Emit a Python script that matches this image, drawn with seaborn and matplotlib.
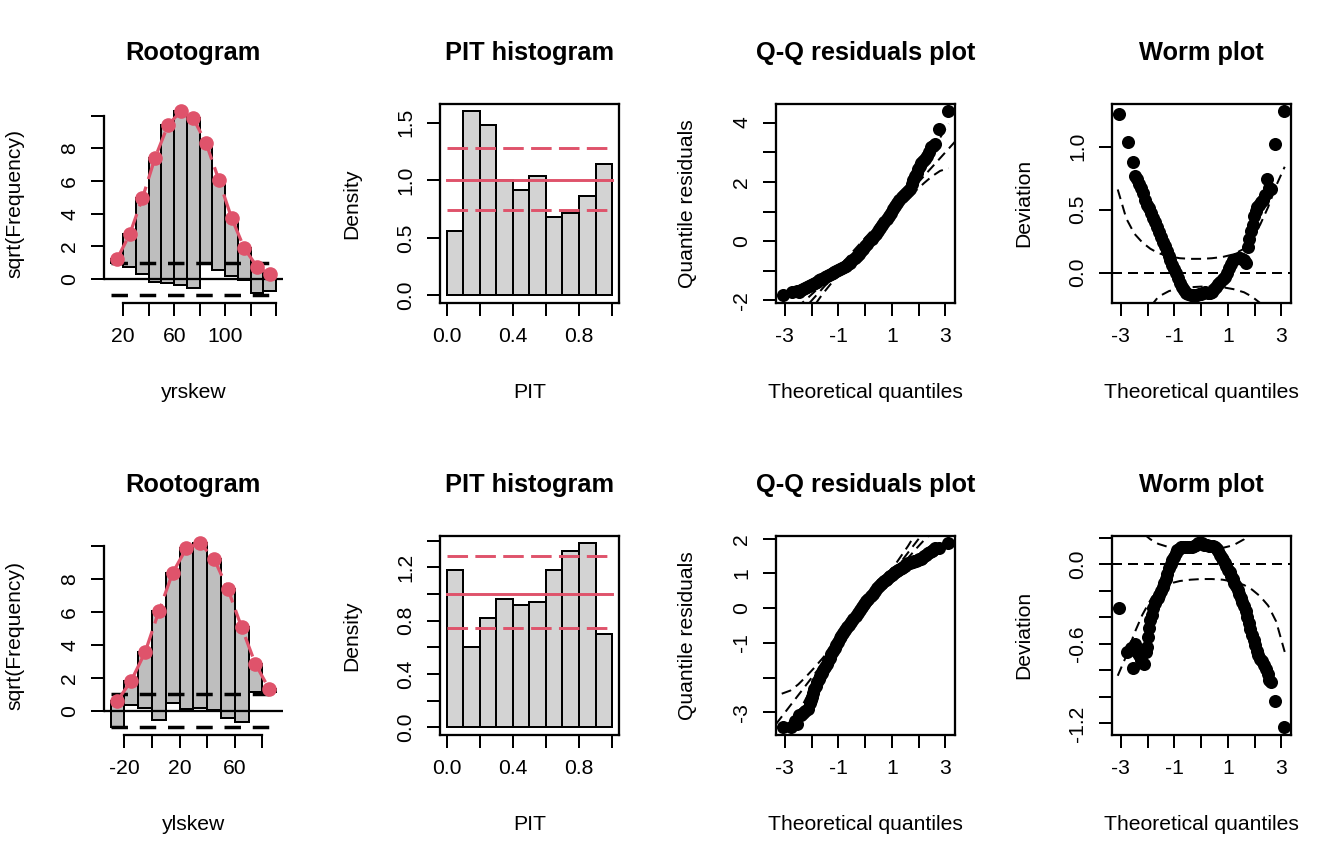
import numpy as np
import pandas as pd
import seaborn as sns
import matplotlib
matplotlib.use("Agg")
from matplotlib import pyplot as plt

# ---- data ------------------------------------------------------------------
# rootogram, top row (yrskew): bin centres, expected sqrt(freq), bar bottoms
root_mid_top = [15, 25, 35, 45, 55, 65, 75, 85, 95, 105, 115, 125, 135]
root_exp_top = [1.21, 2.73, 4.94, 7.43, 9.39, 10.26, 9.82, 8.30, 6.07, 3.74, 1.88, 0.75, 0.30]
root_low_top = [1.00, 0.75, 0.28, -0.18, -0.22, -0.34, -0.53, 1.00, 0.55, 0.20, -0.06, -0.87, -0.71]
root_xt_top = [20, 40, 60, 80, 100, 120, 140]
root_xl_top = ['20', '', '60', '', '100', '', '']

# rootogram, bottom row (ylskew)
root_mid_bot = [-25, -15, -5, 5, 15, 25, 35, 45, 55, 65, 75, 85]
root_exp_bot = [0.61, 1.83, 3.55, 6.04, 8.38, 9.88, 10.18, 9.23, 7.40, 5.07, 2.84, 1.32]
root_low_bot = [-1.01, 0.37, 0.16, -0.55, 0.47, 0.10, 0.20, 0.06, -0.41, -0.69, 1.15, 1.12]
root_xt_bot = [-20, 0, 20, 40, 60, 80]
root_xl_bot = ['-20', '', '20', '', '60', '']
root_yt = [0, 2, 4, 6, 8, 10]
root_yl = ['0', '2', '4', '6', '8', '']
bin_width = 10

# PIT histograms
pit_edges = [0.0, 0.1, 0.2, 0.3, 0.4, 0.5, 0.6, 0.7, 0.8, 0.9, 1.0]
pit_dens_top = [0.56, 1.60, 1.48, 1.00, 0.92, 1.04, 0.68, 0.72, 0.86, 1.14]
pit_dens_bot = [1.18, 0.60, 0.82, 0.96, 0.92, 0.94, 1.18, 1.32, 1.38, 0.70]
pit_ci = [0.745, 1.285]
pit_xt = [0.0, 0.2, 0.4, 0.6, 0.8, 1.0]
pit_xl = ['0.0', '', '0.4', '', '0.8', '']
pit_yt_top = [0.0, 0.5, 1.0, 1.5]
pit_yl_top = ['0.0', '0.5', '1.0', '1.5']
pit_yt_bot = [0.0, 0.2, 0.4, 0.6, 0.8, 1.0, 1.2, 1.4]
pit_yl_bot = ['0.0', '', '0.4', '', '0.8', '', '1.2', '']

# theoretical quantiles and deviations (worm plot values); qq residual = theo + dev
theo_top = [-3.09, -2.74, -2.56, -2.47, -2.40, -2.32, -2.25, -2.18, -2.10, -2.02,
            -1.95, -1.88, -1.80, -1.72, -1.65, -1.58, -1.50, -1.43, -1.36, -1.29,
            -1.22, -1.15, -1.08, -1.01, -0.94, -0.87, -0.80, -0.72, -0.64, -0.56,
            -0.48, -0.40, -0.32, -0.24, -0.16, -0.08, 0.00, 0.08, 0.16, 0.24,
            0.32, 0.40, 0.48, 0.56, 0.64, 0.72, 0.80, 0.88, 0.96, 1.04,
            1.12, 1.20, 1.28, 1.36, 1.44, 1.52, 1.60, 1.68, 1.74, 1.80,
            1.86, 1.92, 1.98, 2.04, 2.10, 2.16, 2.22, 2.30, 2.38, 2.45,
            2.55, 2.62, 2.76, 3.10]
dev_top = [1.26, 1.04, 0.88, 0.77, 0.74, 0.70, 0.67, 0.63, 0.58, 0.54,
           0.51, 0.47, 0.43, 0.40, 0.36, 0.32, 0.28, 0.24, 0.21, 0.17,
           0.13, 0.10, 0.06, 0.03, 0.00, -0.04, -0.08, -0.11, -0.14, -0.16,
           -0.17, -0.18, -0.18, -0.18, -0.18, -0.17, -0.17, -0.16, -0.15, -0.16,
           -0.16, -0.15, -0.13, -0.11, -0.09, -0.07, -0.05, -0.03, 0.00, 0.04,
           0.07, 0.10, 0.11, 0.12, 0.12, 0.11, 0.10, 0.08, 0.20, 0.27,
           0.33, 0.38, 0.45, 0.49, 0.52, 0.54, 0.56, 0.58, 0.62, 0.74,
           0.67, 0.66, 1.02, 1.28]

theo_bot = [-3.09, -2.77, -2.62, -2.56, -2.46, -2.40, -2.34, -2.25, -2.15, -2.08,
            -2.03, -1.99, -1.95, -1.90, -1.85, -1.80, -1.74, -1.68, -1.62, -1.56,
            -1.50, -1.44, -1.38, -1.32, -1.26, -1.20, -1.14, -1.08, -1.02, -0.96,
            -0.90, -0.84, -0.76, -0.68, -0.60, -0.52, -0.44, -0.36, -0.28, -0.20,
            -0.12, -0.04, 0.04, 0.12, 0.20, 0.28, 0.36, 0.44, 0.52, 0.58,
            0.64, 0.70, 0.76, 0.82, 0.88, 0.94, 1.00, 1.06, 1.12, 1.18,
            1.24, 1.30, 1.36, 1.42, 1.48, 1.54, 1.60, 1.66, 1.72, 1.78,
            1.84, 1.90, 1.96, 2.02, 2.08, 2.14, 2.20, 2.27, 2.34, 2.41,
            2.48, 2.55, 2.62, 2.76, 3.10]
dev_bot = [-0.33, -0.66, -0.63, -0.78, -0.60, -0.66, -0.68, -0.72, -0.75, -0.66,
           -0.62, -0.55, -0.48, -0.42, -0.38, -0.33, -0.29, -0.27, -0.25, -0.23,
           -0.20, -0.17, -0.14, -0.11, -0.07, -0.03, 0.00, 0.03, 0.06, 0.09,
           0.11, 0.12, 0.13, 0.13, 0.13, 0.13, 0.13, 0.13, 0.14, 0.15,
           0.16, 0.16, 0.16, 0.15, 0.15, 0.14, 0.14, 0.14, 0.13, 0.12,
           0.10, 0.07, 0.05, 0.03, 0.01, -0.01, -0.04, -0.06, -0.09, -0.11,
           -0.14, -0.16, -0.19, -0.22, -0.25, -0.28, -0.31, -0.35, -0.40, -0.44,
           -0.49, -0.53, -0.57, -0.61, -0.65, -0.68, -0.71, -0.73, -0.76, -0.79,
           -0.83, -0.87, -0.89, -1.03, -1.23]

# confidence band of the worm plot (same n in both rows)
band_x = [-3.12, -2.8, -2.5, -2.2, -1.9, -1.6, -1.2, -0.8, -0.4, 0.0,
          0.4, 0.8, 1.2, 1.6, 1.9, 2.2, 2.5, 2.8, 3.12]
band_hi = [0.66, 0.43, 0.31, 0.24, 0.19, 0.155, 0.13, 0.115, 0.11, 0.11,
           0.115, 0.125, 0.145, 0.19, 0.27, 0.38, 0.52, 0.69, 0.84]
band_lo = [-0.84, -0.69, -0.52, -0.38, -0.27, -0.19, -0.145, -0.125, -0.115, -0.11,
           -0.11, -0.115, -0.13, -0.155, -0.19, -0.24, -0.31, -0.43, -0.66]

q_xt = [-3, -2, -1, 0, 1, 2, 3]
q_xl = ['-3', '', '-1', '', '1', '', '3']
qq_yt_top = [-2, -1, 0, 1, 2, 3, 4]
qq_yl_top = ['-2', '', '0', '', '2', '', '4']
qq_yt_bot = [-3, -2, -1, 0, 1, 2]
qq_yl_bot = ['-3', '', '-1', '0', '1', '2']
wp_yt_top = [0.0, 0.5, 1.0]
wp_yl_top = ['0.0', '0.5', '1.0']
wp_yt_bot = [-1.2, -1.0, -0.8, -0.6, -0.4, -0.2, 0.0, 0.2]
wp_yl_bot = ['-1.2', '', '', '-0.6', '', '', '0.0', '']

# ---- look ------------------------------------------------------------------
RED = '#DF536B'
FS = 7.92
W, H = 1344, 864
PW, PH = 336, 432
ML, MR, MT, MB = 103.9, 53.2, 103.9, 129.2
AX_W = PW - ML - MR
AX_H = PH - MT - MB

plt.rcParams['font.family'] = ['Liberation Sans', 'DejaVu Sans']
plt.rcParams['font.size'] = FS
plt.rcParams['axes.unicode_minus'] = False

fig = plt.figure(figsize=(7, 4.5), dpi=192)
fig.patch.set_facecolor('white')


def panel(row, col):
    left = col * PW + ML
    top = row * PH + MT
    return fig.add_axes([left / W, 1 - (top + AX_H) / H, AX_W / W, AX_H / H])


def r_style(ax, xt, xl, yt, yl, box=True):
    ax.set_xticks(xt)
    ax.set_xticklabels(xl)
    ax.set_yticks(yt)
    ax.set_yticklabels(yl, rotation=90, va='center')
    ax.tick_params(direction='out', length=4.74, width=0.75, labelsize=FS, pad=4.5)
    for s in ax.spines.values():
        s.set_linewidth(0.85)
    if not box:
        ax.spines['top'].set_visible(False)
        ax.spines['right'].set_visible(False)
        ax.spines['left'].set_bounds(yt[0], yt[-1])
        ax.spines['bottom'].set_bounds(xt[0], xt[-1])


def r_labels(ax, title, xlab, ylab):
    ax.set_xlabel(xlab, fontsize=FS, va='center')
    ax.xaxis.set_label_coords(0.5, -89.5 / AX_H)
    ax.set_ylabel(ylab, fontsize=FS, va='center')
    ax.yaxis.set_label_coords(-88.5 / AX_W, 0.5)
    ax.text(0.5, 1 + 51.0 / AX_H, title, transform=ax.transAxes, ha='center',
            va='center', fontsize=9.5, fontweight='bold')


def r_lim(lo, hi):
    r = hi - lo
    return lo - 0.04 * r, hi + 0.04 * r


def rootogram(ax, mid, exp_, low, xt, xl, xlab):
    mid = np.array(mid, float)
    exp_ = np.array(exp_)
    low = np.array(low)
    ax.bar(mid, exp_ - low, bottom=low, width=bin_width, color='#BEBEBE',
           edgecolor='black', linewidth=0.75, zorder=1)
    x0, x1 = mid[0] - bin_width / 2, mid[-1] + bin_width / 2
    ax.axhline(0, color='black', lw=0.85, zorder=2)
    for h in (-1, 1):
        ax.plot([x0, x1], [h, h], color='black', lw=1.3, ls=(0, (4.75, 3.4)), zorder=3)
    df = pd.DataFrame({'x': mid, 'y': exp_})
    sns.lineplot(data=df, x='x', y='y', color=RED, lw=1.2, ls=(0, (6.5, 2.5)),
                 estimator=None, ax=ax, zorder=4)
    sns.scatterplot(data=df, x='x', y='y', color=RED, s=30, linewidth=0,
                    ax=ax, zorder=5)
    ax.set_xlim(*r_lim(x0, x1))
    ax.set_ylim(*r_lim(min(low.min(), -1), exp_.max()))
    r_style(ax, xt, xl, root_yt, root_yl, box=False)
    r_labels(ax, 'Rootogram', xlab, 'sqrt(Frequency)')


def pit_hist(ax, dens, yt, yl):
    mids = [(a + b) / 2 for a, b in zip(pit_edges[:-1], pit_edges[1:])]
    sns.histplot(x=mids, weights=dens, bins=pit_edges, stat='count', color='#D3D3D3',
                 edgecolor='black', linewidth=0.75, alpha=1, ax=ax, zorder=1)
    ax.plot([0, 1], [1, 1], color=RED, lw=1.1, zorder=3)
    for c in pit_ci:
        ax.plot([0, 1], [c, c], color=RED, lw=1.1, ls=(0, (7.0, 2.5)), zorder=3)
    ax.set_xlim(*r_lim(0, 1))
    ax.set_ylim(*r_lim(0, max(max(dens), max(pit_ci))))
    r_style(ax, pit_xt, pit_xl, yt, yl)
    r_labels(ax, 'PIT histogram', 'PIT', 'Density')


def qq_plot(ax, theo, dev, yt, yl):
    theo = np.array(theo)
    res = theo + np.array(dev)
    sns.scatterplot(x=theo, y=res, color='black', s=24, linewidth=0, ax=ax, zorder=2)
    bx = np.array(band_x)
    dash = (0, (5, 3))
    ax.axline((0, 0), slope=1, color='black', lw=0.75, ls=dash, zorder=3)
    ax.plot(bx, bx + np.array(band_hi), color='black', lw=0.75, ls=dash, zorder=3)
    ax.plot(bx, bx + np.array(band_lo), color='black', lw=0.75, ls=dash, zorder=3)
    ax.set_xlim(*r_lim(theo.min(), theo.max()))
    ax.set_ylim(*r_lim(res.min(), res.max()))
    r_style(ax, q_xt, q_xl, yt, yl)
    r_labels(ax, 'Q-Q residuals plot', 'Theoretical quantiles', 'Quantile residuals')


def worm_plot(ax, theo, dev, yt, yl):
    theo = np.array(theo)
    dev = np.array(dev)
    sns.scatterplot(x=theo, y=dev, color='black', s=24, linewidth=0, ax=ax, zorder=2)
    dash = (0, (5, 3))
    ax.axhline(0, color='black', lw=0.75, ls=dash, zorder=3)
    ax.plot(band_x, band_hi, color='black', lw=0.75, ls=dash, zorder=3)
    ax.plot(band_x, band_lo, color='black', lw=0.75, ls=dash, zorder=3)
    ax.set_xlim(*r_lim(theo.min(), theo.max()))
    ax.set_ylim(*r_lim(dev.min(), dev.max()))
    r_style(ax, q_xt, q_xl, yt, yl)
    r_labels(ax, 'Worm plot', 'Theoretical quantiles', 'Deviation')


rootogram(panel(0, 0), root_mid_top, root_exp_top, root_low_top, root_xt_top, root_xl_top, 'yrskew')
pit_hist(panel(0, 1), pit_dens_top, pit_yt_top, pit_yl_top)
qq_plot(panel(0, 2), theo_top, dev_top, qq_yt_top, qq_yl_top)
worm_plot(panel(0, 3), theo_top, dev_top, wp_yt_top, wp_yl_top)

rootogram(panel(1, 0), root_mid_bot, root_exp_bot, root_low_bot, root_xt_bot, root_xl_bot, 'ylskew')
pit_hist(panel(1, 1), pit_dens_bot, pit_yt_bot, pit_yl_bot)
qq_plot(panel(1, 2), theo_bot, dev_bot, qq_yt_bot, qq_yl_bot)
worm_plot(panel(1, 3), theo_bot, dev_bot, wp_yt_bot, wp_yl_bot)

fig.savefig('out.png', dpi=192, facecolor='white')
